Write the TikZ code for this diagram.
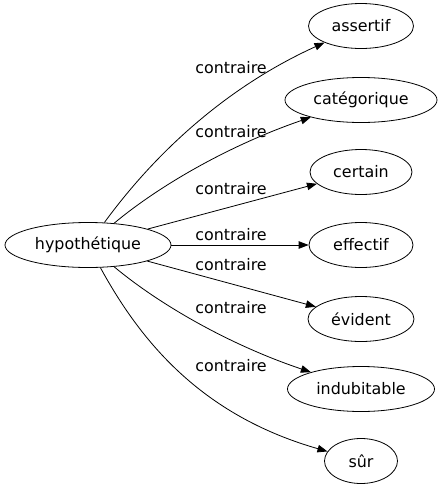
\documentclass[tikz,border=0pt]{standalone}
\usepackage{fontspec}
\setmainfont{DejaVu Sans}
\usetikzlibrary{shapes.geometric,arrows.meta}
\begin{document}
\begin{tikzpicture}[x=1pt,y=-1pt,
  every node/.style={font=\fontsize{15.9}{18}\selectfont},
  term/.style={draw,ellipse,line width=0.8pt,inner sep=0pt,minimum height=45pt},
  lbl/.style={inner sep=0pt},
  rel/.style={draw,line width=0.8pt,-{Triangle[length=10pt,width=7.5pt]}}]
\useasboundingbox (0,0) rectangle (442,491);
\node[term,minimum width=166pt] (h) at (88,245) {hypothétique};
\node[term,minimum width=105pt] (a) at (361,26) {assertif};
\node[term,minimum width=152pt] (b) at (361,100) {catégorique};
\node[term,minimum width=102pt] (c) at (361,172) {certain};
\node[term,minimum width=104pt] (d) at (361,245) {effectif};
\node[term,minimum width=106pt] (e) at (361,319) {évident};
\node[term,minimum width=147pt] (f) at (361,389) {indubitable};
\node[term,minimum width=73pt]  (g) at (361,461) {sûr};
\node[lbl] (l1) at (231,68) {contraire};
\node[lbl] (l2) at (231,132) {contraire};
\node[lbl] (l3) at (231,189) {contraire};
\node[lbl] (l4) at (231,235) {contraire};
\node[lbl] (l5) at (231,265) {contraire};
\node[lbl] (l6) at (231,308) {contraire};
\node[lbl] (l7) at (231,366) {contraire};
\draw[rel] (h) .. controls (150,160) and (220,90) .. (a);
\draw[rel] (h) .. controls (160,185) and (230,145) .. (b);
\draw[rel] (h) -- (c);
\draw[rel] (h) -- (d);
\draw[rel] (h) -- (e);
\draw[rel] (h) .. controls (160,305) and (230,345) .. (f);
\draw[rel] (h) .. controls (140,340) and (200,415) .. (g);
\end{tikzpicture}
\end{document}
